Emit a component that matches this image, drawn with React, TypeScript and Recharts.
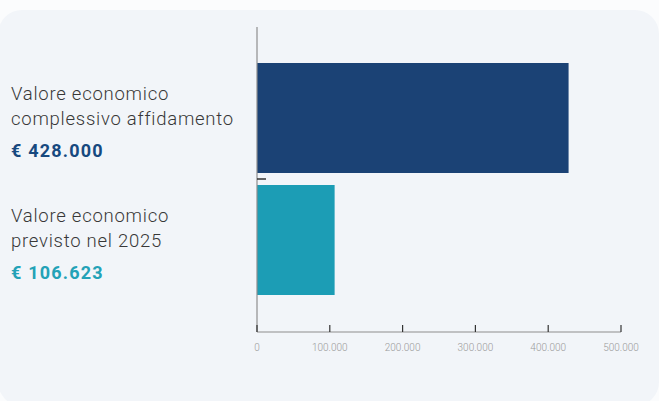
import { BarChart, Bar, XAxis, YAxis, Cell } from "recharts";

const categories = ["affidamento", "previsto2025"];
const labelLines = [
  ["Valore economico", "complessivo affidamento"],
  ["Valore economico", "previsto nel 2025"],
];
const values = [428000, 106623];
const valueLabels = ["€ 428.000", "€ 106.623"];
const barColors = ["#1b4275", "#1c9db5"];
const textColors = ["#17497f", "#23a2b7"];
const xTicks = [0, 100000, 200000, 300000, 400000, 500000];
const xTickLabels = ["0", "100.000", "200.000", "300.000", "400.000", "500.000"];

const data = categories.map((c, i) => ({ name: c, value: values[i] }));

const FONT = "Roboto, 'Noto Sans', sans-serif";

const LabelTick = ({ x, y, payload, index }: any) => {
  const i = index ?? categories.indexOf(payload.value);
  const lx = x - 246;
  return (
    <g>
      <text x={lx} y={y - 18.5} fill="#383838" fontSize={18.5} fontWeight={300} letterSpacing={0.75} fontFamily={FONT}>
        {labelLines[i][0]}
      </text>
      <text x={lx} y={y + 7} fill="#383838" fontSize={18.5} fontWeight={300} letterSpacing={0.75} fontFamily={FONT}>
        {labelLines[i][1]}
      </text>
      <text x={lx} y={y + 39} fill={textColors[i]} fontSize={18} fontWeight={700} letterSpacing={1.2} fontFamily={FONT}>
        {valueLabels[i]}
      </text>
      {i === 0 && payload.offset ? (
        <line x1={x} x2={x + 9} y1={y + payload.offset} y2={y + payload.offset} stroke="#333" strokeWidth={1.5} />
      ) : null}
    </g>
  );
};

const ValueTick = ({ x, y, index }: any) => (
  <g>
    <line x1={x} x2={x} y1={y - 7} y2={y} stroke="#333" strokeWidth={1.2} />
    <text x={x} y={y + 19} textAnchor="middle" fill="#9a9a9a" fontSize={10} fontWeight={300} fontFamily={FONT}>
      {xTickLabels[index]}
    </text>
  </g>
);

export default function App() {
  return (
    <div style={{ position: "fixed", left: 0, top: 0, width: 659, height: 401, background: "#fbfcfd", overflow: "hidden" }}>
      <div
        style={{
          position: "absolute",
          left: -2,
          top: 10,
          width: 661,
          height: 396,
          borderRadius: 24,
          background: "#f2f5f9",
        }}
      />
      <div style={{ position: "absolute", left: 0, top: 0 }}>
        <BarChart
          width={659}
          height={401}
          data={data}
          layout="vertical"
          margin={{ top: 27, right: 38, bottom: 39, left: 0 }}
          barCategoryGap={6}
        >
          <XAxis
            type="number"
            domain={[0, 500000]}
            ticks={xTicks}
            height={30}
            tickSize={0}
            tickMargin={0}
            tickLine={false}
            axisLine={{ stroke: "#8e8e8e", strokeWidth: 1.2 }}
            tick={<ValueTick />}
            interval={0}
          />
          <YAxis
            type="category"
            dataKey="name"
            width={257}
            padding={{ top: 30, bottom: 31 }}
            tickSize={0}
            tickMargin={0}
            tickLine={false}
            axisLine={{ stroke: "#8e8e8e", strokeWidth: 1.2 }}
            tick={<LabelTick />}
            interval={0}
          />
          <Bar dataKey="value" isAnimationActive={false}>
            {data.map((d, i) => (
              <Cell key={d.name} fill={barColors[i]} />
            ))}
          </Bar>
        </BarChart>
      </div>
    </div>
  );
}
